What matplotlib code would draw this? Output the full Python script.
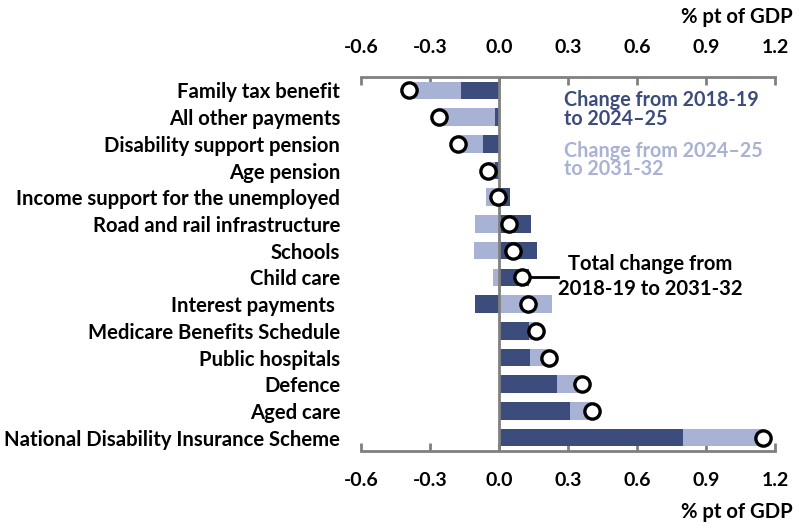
import matplotlib
matplotlib.use("Agg")
import matplotlib.pyplot as plt

categories = [
    "Family tax benefit",
    "All other payments",
    "Disability support pension",
    "Age pension",
    "Income support for the unemployed",
    "Road and rail infrastructure",
    "Schools",
    "Child care",
    "Interest payments ",
    "Medicare Benefits Schedule",
    "Public hospitals",
    "Defence",
    "Aged care",
    "National Disability Insurance Scheme",
]
change_2019_2025 = [-0.165, -0.016, -0.068, -0.019, 0.049, 0.140, 0.166, 0.132,
                    -0.103, 0.132, 0.134, 0.253, 0.310, 0.799]
change_2025_2032 = [-0.225, -0.247, -0.112, -0.029, -0.055, -0.103, -0.107, -0.025,
                    0.232, 0.031, 0.085, 0.107, 0.093, 0.347]
total_change = [-0.392, -0.263, -0.180, -0.048, -0.006, 0.043, 0.060, 0.102,
                0.128, 0.163, 0.219, 0.360, 0.403, 1.146]
xticks = [-0.6, -0.3, 0.0, 0.3, 0.6, 0.9, 1.2]

DARK = "#3C4C7C"
LIGHT = "#A8B2D4"
GREY = "#808080"

plt.rcParams["font.family"] = ["Lato", "DejaVu Sans"]
plt.rcParams["font.weight"] = "bold"

FS = 14.6

fig = plt.figure(figsize=(8, 5.3), dpi=100)
ax = fig.add_axes([361 / 800, 1 - 451 / 530, (775 - 361) / 800, (451 - 77) / 530])

y = list(range(len(categories)))
h = 0.66
for i in y:
    a = change_2019_2025[i]
    b = change_2025_2032[i]
    ax.barh(i, a, height=h, color=DARK, zorder=2)
    if (a >= 0) == (b >= 0):
        ax.barh(i, b, left=a, height=h, color=LIGHT, zorder=2)
    else:
        ax.barh(i, b, left=0, height=h, color=LIGHT, zorder=2)

ax.axvline(0, color=GREY, lw=2, zorder=3)
ax.plot(total_change, y, "o", ms=11, mfc="white", mec="black", mew=2.4, zorder=5, ls="none")

ax.set_xlim(-0.6, 1.2)
ax.set_ylim(13.5, -0.5)
ax.set_yticks(y)
ax.set_yticklabels(categories, fontsize=FS, fontweight="bold")
ax.tick_params(axis="y", length=0, pad=15)
ax.set_xticks(xticks)
ax.set_xticklabels([f"{t:.1f}" for t in xticks], fontsize=14, fontweight="bold")
ax.tick_params(axis="x", direction="in", length=6, width=2, color=GREY,
               top=True, labeltop=True, bottom=True, labelbottom=True, pad=15)
for s in ["left", "right"]:
    ax.spines[s].set_visible(False)
for s in ["top", "bottom"]:
    ax.spines[s].set_color(GREY)
    ax.spines[s].set_linewidth(2)

# legend texts
ax.text(0.284, 0.71, "Change from 2018-19\nto 2024\u201325", color=DARK, fontsize=14.2,
        fontweight="bold", ha="left", va="center", linespacing=0.9)
ax.text(0.284, 2.6, "Change from 2024\u201325\nto 2031-32", color=LIGHT, fontsize=14.2,
        fontweight="bold", ha="left", va="center", linespacing=0.9)

# annotation
ax.plot([total_change[7], 0.255], [7, 7], color="black", lw=2, zorder=4)
ax.text(0.658, 6.97, "Total change from\n2018-19 to 2031-32", color="black", fontsize=FS,
        fontweight="bold", ha="center", va="center", linespacing=1.3)

fig.text(793 / 800, 1 - 17 / 530, "% pt of GDP", ha="right", va="center",
         fontsize=FS, fontweight="bold")
fig.text(793 / 800, 1 - 512 / 530, "% pt of GDP", ha="right", va="center",
         fontsize=FS, fontweight="bold")

fig.savefig("out.png", dpi=100)
